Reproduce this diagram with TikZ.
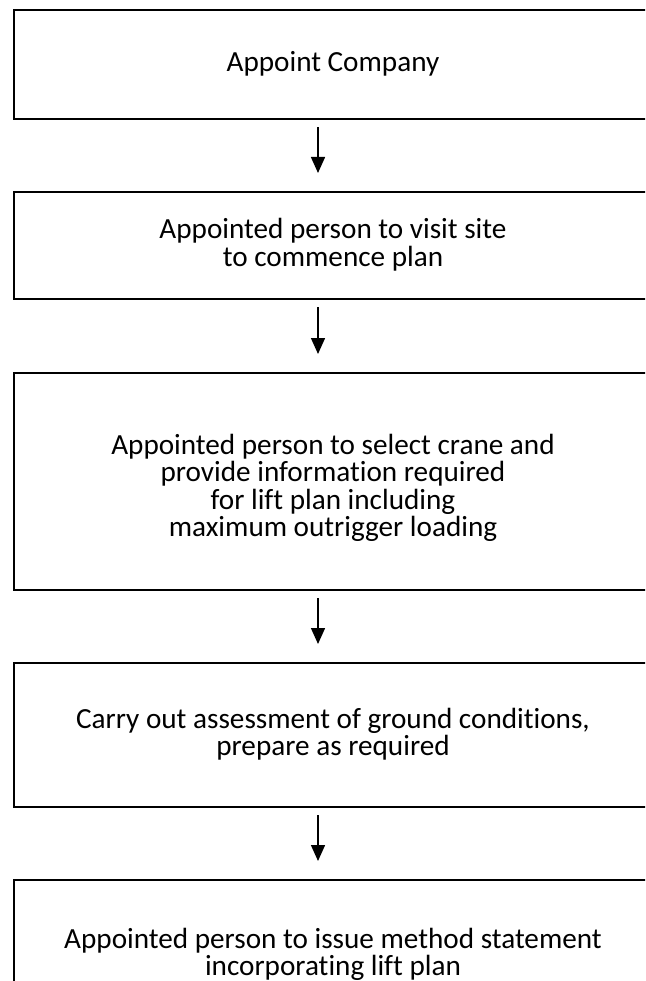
\documentclass[tikz,border=0pt]{standalone}
\usepackage{fontspec}
\setmainfont{Carlito}[Ligatures={NoCommon}, RawFeature={-liga}]
\usetikzlibrary{arrows.meta, positioning, calc}

\begin{document}
\begin{tikzpicture}[x=1pt, y=-1pt,
    stepbox/.style={draw=black, line width=2.2pt, anchor=north west, inner sep=0pt, minimum width=640},
    steptext/.style={align=center, inner sep=0pt, font=\fontsize{29.2}{27.5}\selectfont},
    flow/.style={-{Triangle[length=16pt, width=14pt]}, line width=1.5pt, shorten <=7pt, shorten >=18pt}]
  \clip (0,0) rectangle (645,981);
  % --- the five boxes (they run off the right and bottom edges) ---
  \node[stepbox, minimum height=109] (company) at (13,9)   {};
  \node[stepbox, minimum height=107] (visit)   at (13,191) {};
  \node[stepbox, minimum height=217] (crane)   at (13,372) {};
  \node[stepbox, minimum height=144] (ground)  at (13,662) {};
  \node[stepbox, minimum height=200] (method)  at (13,879) {};
  % --- texts, centred on the full box width ---
  \node[steptext] (tcompany) at (333,63.5) {Appoint Company};
  \node[steptext] (tvisit)   at (333,244.5) {Appointed person to visit site\\ to commence plan};
  \node[steptext] (tcrane)   at (333,488) {Appointed person to select crane and\\ provide information required\\ for lift plan including\\ maximum outrigger loading};
  \node[steptext] (tground)  at (333,734) {Carry out assessment of ground conditions,\\ prepare as required};
  \node[steptext] (tmethod)  at (333,954.5) {Appointed person to issue method statement\\ incorporating lift plan};
  % --- arrows down the middle ---
  \coordinate (spine) at (318,0);
  \draw[flow] (spine |- company.south) -- (spine |- visit.north);
  \draw[flow] (spine |- visit.south)   -- (spine |- crane.north);
  \draw[flow] (spine |- crane.south)   -- (spine |- ground.north);
  \draw[flow] (spine |- ground.south)  -- (spine |- method.north);
\end{tikzpicture}
\end{document}
